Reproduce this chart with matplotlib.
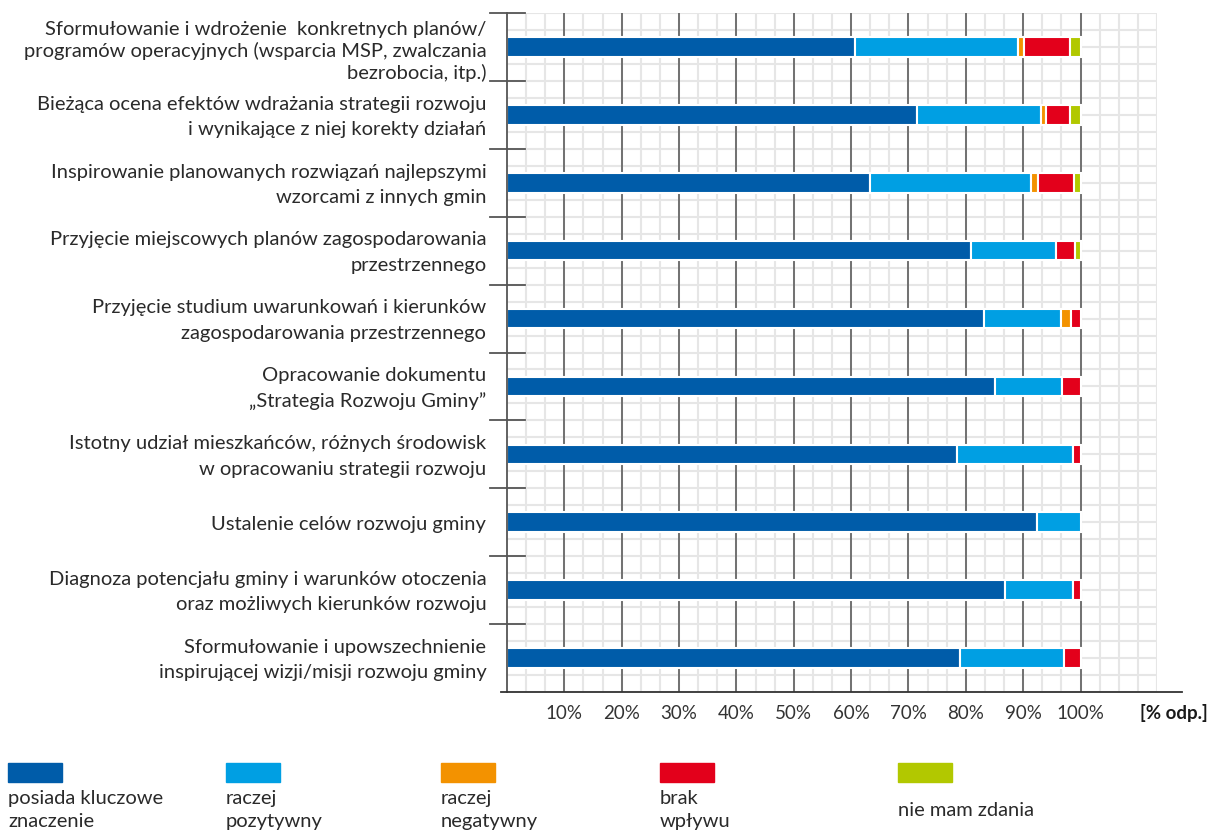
import numpy as np
import matplotlib.pyplot as plt
from matplotlib.patches import Rectangle

plt.rcParams['font.family'] = ['Lato', 'DejaVu Sans']

categories = [
    "Sformułowanie i wdrożenie  konkretnych planów/\nprogramów operacyjnych (wsparcia MSP, zwalczania\nbezrobocia, itp.)",
    "Bieżąca ocena efektów wdrażania strategii rozwoju\ni wynikające z niej korekty działań",
    "Inspirowanie planowanych rozwiązań najlepszymi\nwzorcami z innych gmin",
    "Przyjęcie miejscowych planów zagospodarowania\nprzestrzennego",
    "Przyjęcie studium uwarunkowań i kierunków\nzagospodarowania przestrzennego",
    "Opracowanie dokumentu\n„Strategia Rozwoju Gminy”",
    "Istotny udział mieszkańców, różnych środowisk\nw opracowaniu strategii rozwoju",
    "Ustalenie celów rozwoju gminy",
    "Diagnoza potencjału gminy i warunków otoczenia\noraz możliwych kierunków rozwoju",
    "Sformułowanie i upowszechnienie\ninspirującej wizji/misji rozwoju gminy",
]

kluczowe    = [60.6, 71.5, 63.3, 80.9, 83.2, 85.0, 78.5, 92.4, 86.8, 78.9]
pozytywny   = [28.5, 21.6, 28.1, 14.8, 13.4, 11.8, 20.1,  7.6, 11.8, 18.3]
negatywny   = [ 1.1,  0.9,  1.1,  0.0,  1.7,  0.0,  0.0,  0.0,  0.0,  0.0]
brak_wplywu = [ 7.9,  4.1,  6.4,  3.3,  1.7,  3.2,  1.4,  0.0,  1.4,  2.8]
nie_wiem    = [ 1.9,  1.9,  1.1,  1.0,  0.0,  0.0,  0.0,  0.0,  0.0,  0.0]

series_labels = ["posiada kluczowe\nznaczenie", "raczej\npozytywny", "raczej\nnegatywny",
                 "brak\nwpływu", "nie mam zdania"]
colors = ["#005ca9", "#009fe3", "#f39200", "#e3001b", "#b2c800"]
tick_values = [10, 20, 30, 40, 50, 60, 70, 80, 90, 100]

W, H = 1212, 832
fig = plt.figure(figsize=(W / 100, H / 100), dpi=100)
# axes placed in pixel terms: x 507..1157, y 13..692
ax = fig.add_axes([507 / W, 1 - 692 / H, 650 / W, 679 / H])
xmax = 340 / 3
ax.set_xlim(0, xmax)
ax.set_ylim(10, 0)
for s in ax.spines.values():
    s.set_visible(False)
ax.set_xticks([])
ax.set_yticks([])

grid_c = "#e6e6e6"
for x in np.arange(10 / 3, xmax + 0.01, 10 / 3):
    ax.axvline(x, color=grid_c, lw=1.5, zorder=0)
for y in np.arange(0, 10.01, 0.25):
    ax.axhline(y, color=grid_c, lw=1.5, zorder=0)
for x in tick_values:
    ax.axvline(x, color="#505050", lw=1.1, zorder=1)

y = np.arange(len(categories)) + 0.5
left = np.zeros(len(categories))
for vals, c in zip([kluczowe, pozytywny, negatywny, brak_wplywu, nie_wiem], colors):
    vals = np.array(vals)
    ax.barh(y, np.where(vals > 0, vals, np.nan), left=left, height=0.29, color=c,
            edgecolor="white", linewidth=1.5, zorder=3)
    left += vals

# left axis, separators and bottom axis
ax.plot([0, 0], [0, 10], color="#555555", lw=1.3, clip_on=False, zorder=4)
for k in range(10):
    ax.plot([-2.96, 3.1], [k, k], color="#555555", lw=1.3, clip_on=False, zorder=4)
ax.plot([-1, 117.7], [10, 10], color="#333333", lw=1.3, clip_on=False, zorder=4)

for t in tick_values:
    ax.text(t, 10.31, f"{t}%", ha="center", va="center", fontsize=13.5,
            color="#333333", clip_on=False)
ax.text(116.2, 10.31, "[% odp.]", ha="center", va="center", fontsize=13.5,
        fontweight="bold", color="#1a1a1a", clip_on=False)

for yi, lab in zip(y, categories):
    n = lab.count("\n") + 1
    dy = 0.07 if n > 2 else 0.03
    ax.text(-3.6, yi + dy, lab, ha="right", va="center", fontsize=14.5,
            color="#2a2a2a", linespacing=1.25 if n > 2 else 1.6, clip_on=False)

# legend below the chart
leg_x = [8, 226, 441, 660, 898]
for lx, lab, c in zip(leg_x, series_labels, colors):
    fig.patches.append(Rectangle((lx / W, 1 - 782 / H), 54 / W, 19 / H,
                                 transform=fig.transFigure, color=c))
    fig.text(lx / W, 1 - 810 / H, lab, ha="left", va="center", fontsize=14.5,
             color="#2a2a2a", linespacing=1.45)

fig.savefig("out.png", dpi=100)
